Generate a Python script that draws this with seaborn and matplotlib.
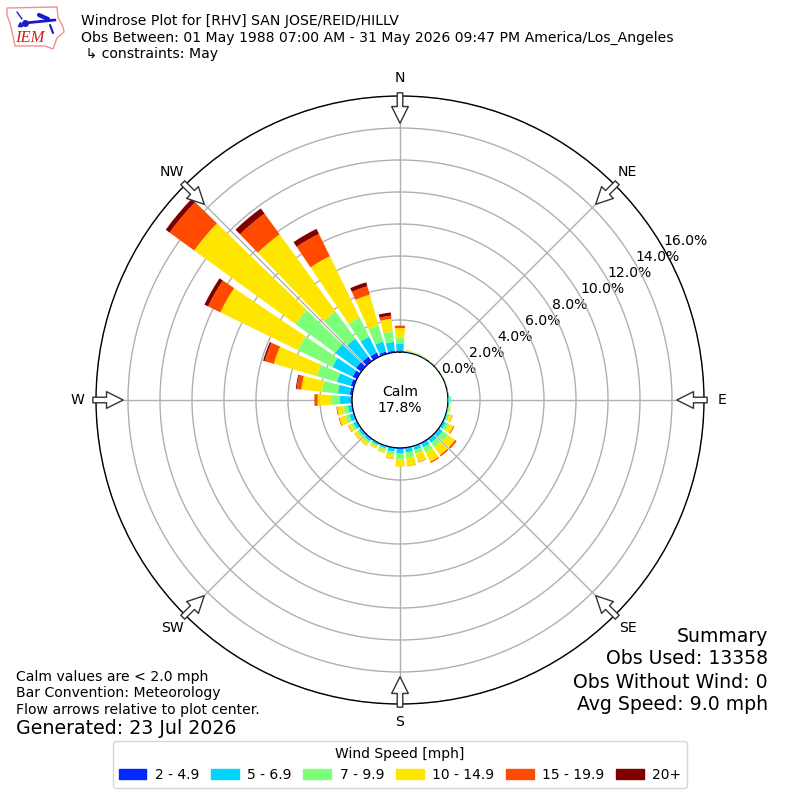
import numpy as np
import pandas as pd
import seaborn as sns
import matplotlib
matplotlib.use("Agg")
import matplotlib.pyplot as plt
from matplotlib.patches import Patch, Polygon

# direction the wind blows from, degrees
directions = list(range(10, 370, 10))

# outer edge of each speed band, percent of obs (bands are stacked)
edge_5 = [.02, .02, .01, .01, .01, 0, 0, 0, 0, 0, .01, .03, .05, .05, .05, .04, .05, .06,
          .05, .03, .03, .05, .05, .05, .06, .06, .1, .15, .2, .3, .4, .35, .3, .15, .1, .1]
edge_7 = [.06, .05, .04, .03, .02, .02, .01, .02, .08, .06, .1, .2, .3, .3, .3, .25, .3, .35,
          .25, .15, .15, .2, .2, .25, .3, .27, .75, .9, 1.1, 1.7, 2.0, 1.75, 1.4, .8, .65, .5]
edge_10 = [.1, .08, .07, .05, .04, .04, .03, .04, .2, .12, .22, .4, .7, .65, .65, .5, .62, .7,
           .45, .3, .25, .35, .35, .42, .55, .55, 1.3, 1.9, 2.4, 4.1, 5.1, 3.85, 2.75, 1.85, 1.3, .9]
edge_15 = [.15, .12, .1, .08, .05, .05, .04, .05, .22, .2, .42, .72, 1.25, 1.25, 1.3, 1.03, 1.15, 1.17,
           .7, .44, .37, .54, .55, .6, .95, .95, 2.15, 3.2, 5.2, 9.5, 12.9, 9.8, 7.0, 3.85, 2.1, 1.5]
edge_20 = [.15, .12, .1, .08, .05, .05, .04, .05, .22, .2, .44, .78, 1.38, 1.35, 1.38, 1.06, 1.17, 1.17,
           .72, .45, .38, .55, .56, .63, 1.0, 1.0, 2.35, 3.5, 5.8, 10.35, 14.8, 11.4, 8.55, 4.4, 2.3, 1.65]
edge_top = [.15, .12, .1, .08, .05, .05, .04, .05, .22, .2, .44, .78, 1.38, 1.35, 1.38, 1.06, 1.17, 1.17,
            .72, .45, .38, .55, .56, .63, 1.0, 1.0, 2.35, 3.55, 5.9, 10.6, 15.1, 11.8, 8.9, 4.65, 2.5, 1.65]

speed_labels = ["2 - 4.9", "5 - 6.9", "7 - 9.9", "10 - 14.9", "15 - 19.9", "20+"]
speed_colors = ["#0028ff", "#00d4ff", "#7dff7a", "#ffe600", "#ff4a00", "#800000"]

compass_angles = [0, 45, 90, 135, 180, 225, 270, 315]
compass_labels = ["N", "NE", "E", "SE", "S", "SW", "W", "NW"]
ring_values = [0, 2, 4, 6, 8, 10, 12, 14, 16]

title_text = ("Windrose Plot for [RHV] SAN JOSE/REID/HILLV\n"
              "Obs Between: 01 May 1988 07:00 AM - 31 May 2026 09:47 PM America/Los_Angeles\n"
              " \u21b3 constraints: May")
note_lines = ["Calm values are < 2.0 mph", "Bar Convention: Meteorology", "Flow arrows relative to plot center."]
summary_lines = ["Summary", "Obs Used: 13358", "Obs Without Wind: 0", "Avg Speed: 9.0 mph"]

sns.set_theme(style="white")
plt.rcParams["font.family"] = ["DejaVu Sans"]
plt.rcParams["text.color"] = "black"

fig = plt.figure(figsize=(8, 8), dpi=100)
ax = fig.add_axes([0.12, 0.12, 0.76, 0.76], projection="polar")
ax.set_theta_zero_location("N")
ax.set_theta_direction(-1)

df = pd.DataFrame({"theta": np.deg2rad(directions)})

# each band sits on the outer edge of the one below it
bands = [edge_5, edge_7, edge_10, edge_15, edge_20, edge_top]
lower = np.zeros(len(directions))
for band, color in zip(bands, speed_colors):
    df["height"] = np.array(band) - lower
    sns.barplot(data=df, x="theta", y="height", native_scale=True, color=color,
                width=0.8, saturation=1, bottom=lower, ax=ax, zorder=3)
    lower = np.array(band)
for bar in ax.patches:
    bar.set_edgecolor("none")
    bar.set_linewidth(0)

ax.set_xlabel("")
ax.set_ylabel("")
ax.set_thetagrids(compass_angles, compass_labels, fontsize=10.1, color="black")
ax.tick_params(axis="x", pad=0)
ax.set_rgrids(ring_values, [f"{v:.1f}%" for v in ring_values], angle=60, fontsize=10.1, color="black")
ax.set_rlim(0, 16)
ax.set_rorigin(-3)
ax.grid(True, color="#b0b0b0", lw=1)
ax.set_axisbelow(True)
for spine in ax.spines.values():
    spine.set_edgecolor("black")
    spine.set_linewidth(1)

# flow arrows on the outer ring
for angle in compass_angles:
    ax.annotate("", xy=(np.deg2rad(angle), 14.3), xytext=(np.deg2rad(angle), 16.2),
                arrowprops=dict(facecolor="white", edgecolor="#333333", width=4, headwidth=12,
                                headlength=12, lw=1, shrink=0),
                annotation_clip=False, zorder=6)

fig.text(0.5, 0.5, "Calm\n17.8%", ha="center", va="center", fontsize=10.1)

fig.text(81 / 800, 1 - 14 / 800, title_text, ha="left", va="top", fontsize=10.1, linespacing=1.22)

for i, line in enumerate(note_lines):
    fig.text(16 / 800, 1 - (677 + i * 16.5) / 800, line, ha="left", va="center", fontsize=10.1)
fig.text(16 / 800, 1 - 729 / 800, "Generated: 23 Jul 2026", ha="left", va="center", fontsize=13.7)
for i, line in enumerate(summary_lines):
    fig.text(768 / 800, 1 - (636 + i * 23) / 800, line, ha="right", va="center", fontsize=13.6)

handles = [Patch(color=c, label=s) for c, s in zip(speed_colors, speed_labels)]
fig.legend(handles=handles, title="Wind Speed [mph]", ncol=6, fontsize=10, title_fontsize=10,
           loc="center", bbox_to_anchor=(0.5, 1 - 764.5 / 800), frameon=True,
           handlelength=2, handletextpad=0.6, columnspacing=0.85)

# IEM logo, drawn on a pixel axes
logo = fig.add_axes([0, 0, 1, 1], facecolor="none")
logo.set_xlim(0, 800)
logo.set_ylim(800, 0)
logo.axis("off")
outline = [(7, 8), (57, 7), (58, 17), (63, 27), (64, 32), (57, 38), (53, 49), (45, 46), (15, 46), (13, 36), (10, 23), (7, 15)]
logo.add_patch(Polygon(outline, closed=True, fill=False, edgecolor="#f09090", lw=1))
logo.plot([25, 55], [23, 20], color="#1a1acc", lw=2)
logo.plot([39, 48], [15, 19], color="#1a1acc", lw=3)
logo.plot([17, 22], [12, 19], color="#1a1acc", lw=1)
logo.plot([25], [23], "o", color="#1a1acc", ms=4)
logo.plot([20], [24], "^", color="#1a1acc", ms=3)
logo.plot([50, 53], [25, 33], color="#1a1acc", lw=1.5)
logo.text(30, 38, "IEM", color="#d02020", fontsize=12, family="Liberation Serif", style="italic",
          ha="center", va="center")

fig.savefig("out.png", dpi=100)
